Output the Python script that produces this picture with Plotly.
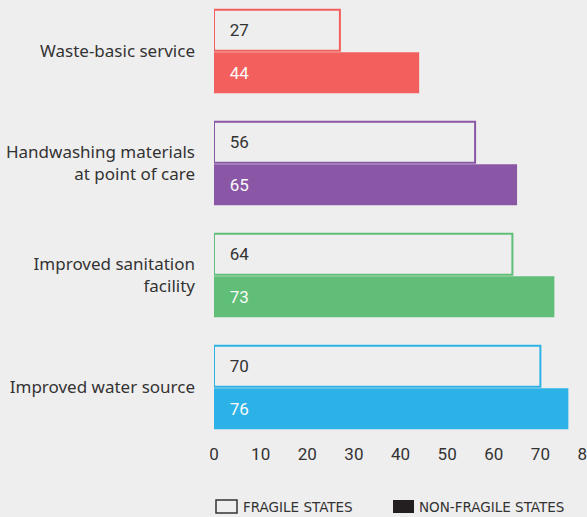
import plotly.graph_objects as go

categories = ["Waste-basic service", "Handwashing materials<br>at point of care",
              "Improved sanitation<br>facility", "Improved water source"]
fragile = [27, 56, 64, 70]
non_fragile = [44, 65, 73, 76]
colors = ["#F25F5C", "#8A56A6", "#60BE78", "#2DB2E8"]
tick_vals = [0, 10, 20, 30, 40, 50, 60, 70, 80]

BG = "#EFEEEE"
W, H = 587, 517
L, R, T, B = 214, 0, 0, 75
pw, ph = W - L - R, H - T - B

def px(x):
    return (x - L) / pw

def py(y):
    return (T + ph - y) / ph

pad = "\u00a0" * 3

fig = go.Figure()
fig.add_trace(go.Bar(
    y=categories, x=fragile, orientation="h", name="Fragile states",
    marker=dict(color=BG, line=dict(color=colors, width=2)),
    text=[pad + str(v) for v in fragile], textposition="inside",
    insidetextanchor="start",
    textfont=dict(color="#333333", size=17, family="Roboto"),
    hoverinfo="skip",
))
fig.add_trace(go.Bar(
    y=categories, x=non_fragile, orientation="h", name="Non-fragile states",
    marker=dict(color=colors, line=dict(width=0)),
    text=[pad + str(v) for v in non_fragile], textposition="inside",
    insidetextanchor="start",
    textfont=dict(color="#FAFAFA", size=17, family="Roboto"),
    hoverinfo="skip",
))

fig.update_layout(
    width=W, height=H, margin=dict(l=L, r=R, t=T, b=B, pad=0, autoexpand=False),
    paper_bgcolor=BG, plot_bgcolor=BG,
    barmode="group", bargap=0.24, bargroupgap=0.035,
    showlegend=False,
    font=dict(family="Noto Sans", color="#333333"),
    xaxis=dict(range=[0, 80], tickvals=tick_vals, showgrid=False, zeroline=False,
               showline=False, ticks="", ticklabeloverflow="allow", automargin=False,
               tickfont=dict(size=17, family="Roboto", color="#333333")),
    yaxis=dict(categoryorder="array", categoryarray=categories,
               range=[3.487, -0.46], showgrid=False, zeroline=False,
               showline=False, ticks="", ticklabelstandoff=18, automargin=False,
               tickfont=dict(size=17, family="Noto Sans", color="#333333")),
)

# custom legend
shapes = [
    dict(type="rect", xref="paper", yref="paper", x0=px(216), x1=px(237),
         y0=py(513), y1=py(500), line=dict(color="#333333", width=1.5), fillcolor=BG),
    dict(type="rect", xref="paper", yref="paper", x0=px(393), x1=px(414),
         y0=py(513), y1=py(500), line=dict(width=0), fillcolor="#231F20"),
]
fig.update_layout(shapes=shapes)
fig.add_annotation(xref="paper", yref="paper", x=px(241), y=py(507), text="FRAGILE STATES",
                   showarrow=False, xanchor="left", yanchor="middle",
                   font=dict(size=13.5, family="DejaVu Sans", color="#333333"))
fig.add_annotation(xref="paper", yref="paper", x=px(417), y=py(507), text="NON-FRAGILE STATES",
                   showarrow=False, xanchor="left", yanchor="middle",
                   font=dict(size=13.5, family="DejaVu Sans", color="#333333"))

fig.write_html("out.html", config={"displayModeBar": False},
               post_script="document.body.style.margin='0';document.body.style.overflow='hidden';")
